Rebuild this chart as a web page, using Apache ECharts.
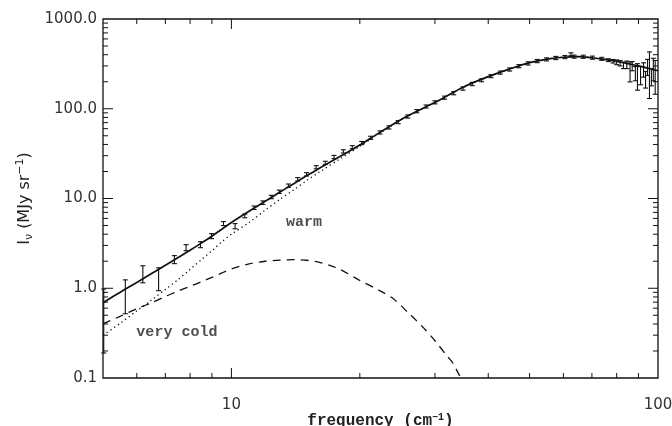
<!DOCTYPE html>
<html><head><meta charset="utf-8">
<script src="https://cdn.jsdelivr.net/npm/echarts@6/dist/echarts.min.js"></script>
<style>html,body{margin:0;padding:0;background:#fff}#c{width:672px;height:426px}</style>
</head><body><div id="c"></div>
<script>
// ---- data ----
const totalX = [5, 5.5, 6, 6.5, 7, 7.5, 8, 8.5, 9, 9.5, 10, 11, 12, 13, 14, 15, 16, 18, 20, 22, 25, 28, 31, 35, 40, 45, 50, 55, 60, 65, 70, 75, 80, 85, 90, 95, 100];
const totalY = [0.69, 0.91, 1.16, 1.46, 1.80, 2.20, 2.65, 3.18, 3.80, 4.55, 5.4, 7.2, 9.3, 11.8, 14.6, 17.9, 21.4, 29.5, 39.5, 52.5, 76, 100, 128, 175, 228, 278, 326, 358, 375, 380, 370, 355, 338, 318, 300, 282, 265];

const warmX = [5, 5.5, 6, 6.5, 7, 7.5, 8, 8.5, 9, 9.5, 10, 11, 12, 13, 14, 15, 16, 18, 20, 22, 25, 28, 31, 35, 40, 45, 50, 55, 60, 65, 70, 75, 80, 85, 90, 95, 100];
const warmY = [0.30, 0.41, 0.56, 0.74, 0.97, 1.25, 1.62, 2.08, 2.62, 3.3, 4.0, 5.4, 7.4, 9.8, 12.5, 15.8, 19.4, 27.8, 38.2, 51.5, 75.3, 99.6, 127.8, 175, 228, 278, 326, 358, 375, 380, 370, 355, 338, 318, 300, 282, 265];

const coldX = [5, 5.5, 6, 6.5, 7, 7.5, 8, 8.5, 9, 9.5, 10, 11, 12, 13, 14, 15, 16, 17, 18, 20, 22, 24, 26, 28, 30, 32, 33, 34, 34.5];
const coldY = [0.40, 0.49, 0.59, 0.69, 0.81, 0.93, 1.05, 1.18, 1.32, 1.48, 1.64, 1.87, 2.0, 2.06, 2.08, 2.05, 1.96, 1.80, 1.62, 1.22, 0.97, 0.76, 0.53, 0.376, 0.26, 0.177, 0.148, 0.114, 0.1];

// measured points with error bars
const ptX  = [5.02, 5.64, 6.2, 6.75, 7.35, 7.83, 8.46, 8.98, 9.58, 10.2,
              10.75, 11.3, 11.85, 12.4, 12.95, 13.6, 14.3, 15.0, 15.8, 16.6, 17.4, 18.3, 19.2, 20.2, 21.2, 22.3, 23.4, 24.6, 25.9, 27.2, 28.6, 30.0, 31.6, 33.2, 34.9, 36.7, 38.6, 40.6, 42.7, 44.9, 47.2, 49.6, 52.1, 54.8, 57.6, 60.5, 62.5, 63.6, 66.8, 70.2, 73.8,
              76.5, 78.5, 80.0, 81.5, 83.0, 84.5, 86.0, 87.0, 88.5, 89.5, 91.0, 92.5, 93.5, 94.5, 95.5, 96.5, 97.5, 98.5];
const ptY  = [0.60, 0.85, 1.43, 1.27, 2.08, 2.84, 3.05, 3.80, 5.25, 4.90,
              6.4, 7.9, 9.0, 10.4, 11.9, 13.9, 16.4, 18.6, 22.3, 25.0, 29.0, 33.5, 37.3, 41.5, 47.5, 54.5, 62, 71, 82, 94, 106, 118, 133, 149, 168, 189, 208, 231, 253, 274, 298, 320, 340, 355, 368, 377, 405, 381, 380, 371, 360,
              348, 338, 330, 322, 305, 310, 268, 300, 250, 292, 240, 275, 215, 295, 250, 230, 285, 245];
const ptLo = [0.19, 0.52, 1.15, 0.94, 1.88, 2.62, 2.83, 3.57, 4.99, 4.60,
              6.1, 7.55, 8.6, 9.95, 11.4, 13.3, 15.7, 17.8, 21.4, 24.0, 27.8, 32.1, 35.8, 39.8, 45.6, 52.3, 59.5, 68.2, 78.7, 90.2, 101.8, 113.3, 127.7, 143, 161, 181, 200, 222, 243, 263, 286, 307, 326, 341, 353, 362, 390, 366, 365, 356, 346,
              336, 323, 310, 300, 280, 280, 199, 265, 205, 161, 185, 225, 170, 235, 130, 180, 205, 145];
const ptHi = [0.98, 1.24, 1.78, 1.69, 2.31, 3.06, 3.30, 4.06, 5.53, 5.25,
              6.7, 8.25, 9.4, 10.85, 12.4, 14.5, 17.1, 19.4, 23.2, 26.0, 30.2, 34.9, 38.8, 43.2, 49.4, 56.7, 64.5, 73.8, 85.3, 97.8, 110.2, 122.7, 138.3, 155, 175, 197, 216, 240, 263, 285, 310, 333, 354, 369, 383, 392, 420, 396, 395, 386, 374,
              360, 353, 350, 344, 330, 340, 333, 335, 295, 318, 295, 325, 260, 355, 430, 280, 365, 345];

const xMajorTicks = [10];
const xMinorTicks = [6, 7, 8, 9, 20, 30, 40, 50, 60, 70, 80, 90];
const yMajorTicks = [1, 10, 100];
const yMinorTicks = [0.2, 0.3, 0.4, 0.5, 0.6, 0.7, 0.8, 0.9, 2, 3, 4, 5, 6, 7, 8, 9, 20, 30, 40, 50, 60, 70, 80, 90, 200, 300, 400, 500, 600, 700, 800, 900];

const annotations = [
  { name: 'warm', x: 14.8, y: 5.5 },
  { name: 'very cold', x: 7.45, y: 0.32 }
];

const X_MIN = 5, X_MAX = 100, Y_MIN = 0.1, Y_MAX = 1000;
// ---------------------------------------

const INK = '#111';
const chart = echarts.init(document.getElementById('c'), null, { renderer: 'canvas' });

function isPow10(v) { const l = Math.log10(v); return Math.abs(l - Math.round(l)) < 1e-6; }

function tickSeries(vals, axis, len) {
  return {
    type: 'custom', coordinateSystem: 'cartesian2d', silent: true, clip: false, z: 6,
    data: vals.map(v => axis === 'x' ? [v, Y_MIN] : [X_MIN, v]),
    renderItem: function (params, api) {
      const st = { stroke: INK, lineWidth: 1 };
      if (axis === 'x') {
        const v = api.value(0);
        const b = api.coord([v, Y_MIN]), t = api.coord([v, Y_MAX]);
        return { type: 'group', children: [
          { type: 'line', shape: { x1: b[0], y1: b[1], x2: b[0], y2: b[1] - len }, style: st },
          { type: 'line', shape: { x1: t[0], y1: t[1], x2: t[0], y2: t[1] + len }, style: st }
        ]};
      } else {
        const v = api.value(1);
        const l = api.coord([X_MIN, v]), r = api.coord([X_MAX, v]);
        return { type: 'group', children: [
          { type: 'line', shape: { x1: l[0], y1: l[1], x2: l[0] + len, y2: l[1] }, style: st },
          { type: 'line', shape: { x1: r[0], y1: r[1], x2: r[0] - len, y2: r[1] }, style: st }
        ]};
      }
    }
  };
}

const errData = ptX.map((x, i) => [x, ptY[i], ptLo[i], ptHi[i]]);

const monoFont = 'Liberation Mono';
const sansFont = 'DejaVu Sans';

chart.setOption({
  animation: false,
  backgroundColor: '#fff',
  grid: { left: 103, right: 14, top: 19, bottom: 48, containLabel: false, outerBoundsMode: 'none',
          show: true, borderColor: INK, borderWidth: 1.3, backgroundColor: 'transparent' },
  xAxis: {
    type: 'log', logBase: 10, min: X_MIN, max: X_MAX,
    axisLine: { show: false }, axisTick: { show: false }, splitLine: { show: false }, minorTick: { show: false },
    axisLabel: {
      color: '#333', fontFamily: sansFont, fontSize: 15, margin: 20,
      formatter: v => isPow10(v) ? String(Math.round(v)) : ''
    },
    name: 'frequency (cm{sup|−1})', nameLocation: 'middle', nameGap: 34, nameMoveOverlap: false,
    nameTextStyle: {
      color: '#222', fontFamily: monoFont, fontSize: 16, fontWeight: 'bold', lineHeight: 18,
      rich: { sup: { fontFamily: monoFont, fontSize: 10, fontWeight: 'bold', lineHeight: 10, verticalAlign: 'top', color: '#222' } }
    }
  },
  yAxis: {
    type: 'log', logBase: 10, min: Y_MIN, max: Y_MAX,
    axisLine: { show: false }, axisTick: { show: false }, splitLine: { show: false }, minorTick: { show: false },
    axisLabel: {
      color: '#333', fontFamily: sansFont, fontSize: 15, margin: 6,
      formatter: v => isPow10(v) ? v.toFixed(1) : ''
    },
    name: '{t|I}{sub|ν}{t| (MJy sr}{sup|−1}{t|)}', nameLocation: 'middle', nameGap: 68, nameMoveOverlap: false,
    nameTextStyle: {
      color: '#222',
      rich: {
        t: { fontFamily: sansFont, fontSize: 16, lineHeight: 20, color: '#222' },
        sub: { fontFamily: sansFont, fontSize: 11, lineHeight: 11, verticalAlign: 'bottom', color: '#222' },
        sup: { fontFamily: sansFont, fontSize: 11, lineHeight: 11, verticalAlign: 'top', color: '#222' }
      }
    }
  },
  series: [
    tickSeries(xMajorTicks, 'x', 10),
    tickSeries(xMinorTicks, 'x', 5),
    tickSeries(yMajorTicks, 'y', 10),
    tickSeries(yMinorTicks, 'y', 5),
    {
      type: 'custom', coordinateSystem: 'cartesian2d', silent: true, z: 3, clip: false,
      data: errData, encode: { x: 0, y: 1 },
      renderItem: function (params, api) {
        const x = api.value(0), lo = api.value(2), hi = api.value(3);
        const a = api.coord([x, lo]), b = api.coord([x, hi]);
        const w = 2.5, st = { stroke: INK, lineWidth: 1.1 };
        return { type: 'group', children: [
          { type: 'line', shape: { x1: a[0], y1: a[1], x2: b[0], y2: b[1] }, style: st },
          { type: 'line', shape: { x1: a[0] - w, y1: a[1], x2: a[0] + w, y2: a[1] }, style: st },
          { type: 'line', shape: { x1: b[0] - w, y1: b[1], x2: b[0] + w, y2: b[1] }, style: st }
        ]};
      }
    },
    {
      type: 'line', name: 'total', data: totalX.map((x, i) => [x, totalY[i]]),
      showSymbol: false, smooth: 0.3, z: 4, silent: true,
      lineStyle: { color: INK, width: 1.7 }
    },
    {
      type: 'line', name: 'warm', data: warmX.map((x, i) => [x, warmY[i]]),
      showSymbol: false, smooth: 0.3, z: 4, silent: true,
      lineStyle: { color: INK, width: 1.3, type: [1.3, 3.2] }
    },
    {
      type: 'line', name: 'very cold', data: coldX.map((x, i) => [x, coldY[i]]),
      showSymbol: false, smooth: 0.3, z: 4, silent: true,
      lineStyle: { color: INK, width: 1.3, type: [8, 6] }
    },
    {
      type: 'scatter', silent: true, z: 7, symbolSize: 0.1,
      itemStyle: { color: 'transparent' },
      data: annotations.map(a => ({ name: a.name, value: [a.x, a.y] })),
      label: { show: true, position: 'inside', formatter: '{b}', color: '#222', fontFamily: monoFont, fontSize: 15, fontWeight: 'bold' }
    }
  ]
});
</script>
</body></html>
